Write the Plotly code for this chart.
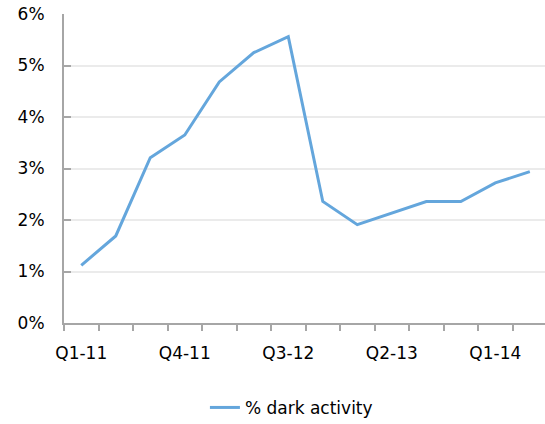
import plotly.graph_objects as go

quarters = ["Q1-11", "Q2-11", "Q3-11", "Q4-11", "Q1-12", "Q2-12", "Q3-12",
            "Q4-12", "Q1-13", "Q2-13", "Q3-13", "Q4-13", "Q1-14", "Q2-14"]
dark_activity = [1.12, 1.69, 3.21, 3.65, 4.68, 5.25, 5.56,
                 2.36, 1.91, 2.14, 2.36, 2.36, 2.72, 2.94]
y_ticks = [0, 1, 2, 3, 4, 5, 6]
label_every = 3

idx = list(range(len(quarters)))
lab_idx = idx[::label_every]

FONT = "DejaVu Sans"
AXIS_COL = "#A6A6A6"

fig = go.Figure()
fig.add_trace(go.Scatter(
    x=idx, y=dark_activity, mode="lines", name="% dark activity",
    line=dict(color="#64A6DC", width=3),
))

fig.update_layout(
    width=545, height=424,
    margin=dict(l=64, r=0, t=14, b=101, autoexpand=False),
    paper_bgcolor="white", plot_bgcolor="white",
    font=dict(family=FONT, size=17, color="#000000"),
    showlegend=True,
    legend=dict(orientation="h", xref="container", yref="container",
                x=0.376, xanchor="left", y=0.038, yanchor="middle",
                font=dict(size=17), itemwidth=30),
    xaxis=dict(
        range=[-0.5, 13.44], showgrid=False, zeroline=False,
        showline=True, linecolor=AXIS_COL, linewidth=2,
        tickmode="array", tickvals=lab_idx,
        ticktext=[quarters[i] for i in lab_idx],
        ticks="", ticklabelstandoff=14,
        minor=dict(tick0=-0.5, dtick=1, ticks="outside", ticklen=6,
                   tickcolor=AXIS_COL, tickwidth=2, showgrid=False),
    ),
    yaxis=dict(
        range=[0, 6], tickmode="array", tickvals=y_ticks,
        ticktext=[f"{v}%" for v in y_ticks],
        showgrid=True, gridcolor="#EBEBEB", gridwidth=2,
        zeroline=False, showline=True, linecolor=AXIS_COL, linewidth=2,
        ticks="inside", ticklen=7, tickcolor=AXIS_COL, tickwidth=2,
        ticklabelstandoff=14,
    ),
)

fig.write_html("out.html", config={"displayModeBar": False},
               post_script="document.body.style.margin='0';")
